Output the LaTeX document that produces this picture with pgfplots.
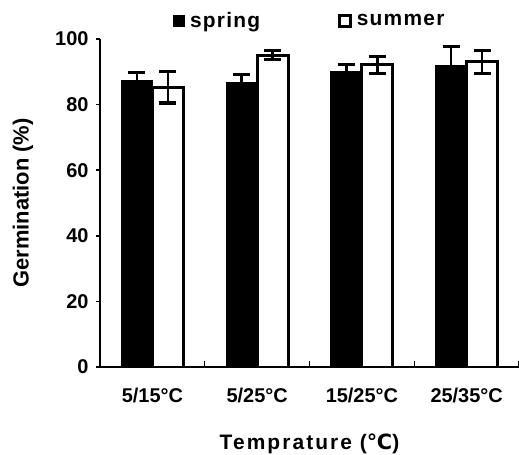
\documentclass[border=0pt]{standalone}
\usepackage{fontspec}
\setmainfont{Liberation Sans}
\newfontfamily\legfont[LetterSpace=6]{Liberation Sans}
\newfontfamily\xlabfont[LetterSpace=10]{Liberation Sans}
\newfontfamily\dejavu{DejaVu Sans}
\usepackage{pgfplots}
\pgfplotsset{compat=1.18}
\begin{document}
\begin{tikzpicture}
\begin{axis}[
  scale only axis, width=419bp, height=328bp,
  xmin=0.5, xmax=4.5, ymin=0, ymax=100,
  axis lines=left,
  axis line style={-, line width=1.5bp},
  ybar=0pt, bar width=31bp,
  xtick={1,2,3,4},
  xticklabels={5/15°C,5/25°C,15/25°C,25/35°C},
  minor xtick={1.5,2.5,3.5,4.5},
  major x tick style={draw=none},
  minor x tick style={yshift=6bp, line width=1.5bp, black},
  minor tick length=6bp,
  ytick={0,20,40,60,80,100},
  tick align=outside,
  major tick length=4bp,
  major y tick style={line width=1.5bp, black},
  tick label style={font=\fontsize{20}{22}\selectfont\bfseries},
  /pgf/number format/assume math mode=true,
  yticklabel style={xshift=-4bp},
  xticklabel style={yshift=-14bp},
  ylabel={Germination (\%)},
  ylabel style={at={(axis description cs:-0.1838,0.5)}, anchor=center, font=\fontsize{22}{24}\selectfont\bfseries},
  xlabel={{\xlabfont Temprature (}{\dejavu ℃}{\xlabfont )}},
  xlabel style={at={(axis description cs:0.5,-0.235)}, anchor=center, font=\fontsize{21}{24}\selectfont\bfseries},
  legend columns=2,
  legend style={at={(axis description cs:0.50,1.056)}, anchor=center, draw=none, fill=none,
    font=\fontsize{21}{24}\selectfont\bfseries\legfont,
    /tikz/every even column/.append style={column sep=76bp}},
  legend image code/.code={\draw[#1] (0bp,-5.5bp) rectangle (11bp,5.5bp); \path[draw=none,fill=none] (15bp,0bp);},
]
\addplot[fill=black, draw=black, line width=1bp,
  error bars/.cd, y dir=both, y explicit,
  error bar style={line width=2.5bp, black},
  error mark options={rotate=90, line width=3.2bp, mark size=8.5bp, black}]
  coordinates {(1,87.2) +- (0,2.5) (2,86.7) +- (0,2.5) (3,90.1) +- (0,2.1) (4,92.0) +- (0,5.8)};
\addlegendentry{spring}
\addplot[fill=white, draw=black, line width=3bp,
  error bars/.cd, y dir=both, y explicit,
  error bar style={line width=2.5bp, black},
  error mark options={rotate=90, line width=3.2bp, mark size=8.5bp, black}]
  coordinates {(1,85.3) +- (0,4.8) (2,95.1) +- (0,1.4) (3,92.1) +- (0,2.5) (4,93.0) +- (0,3.45)};
\addlegendentry{summer}
\end{axis}
\pgfresetboundingbox
\useasboundingbox (-100bp,-88bp) rectangle (419bp,367bp);
\end{tikzpicture}
\end{document}
